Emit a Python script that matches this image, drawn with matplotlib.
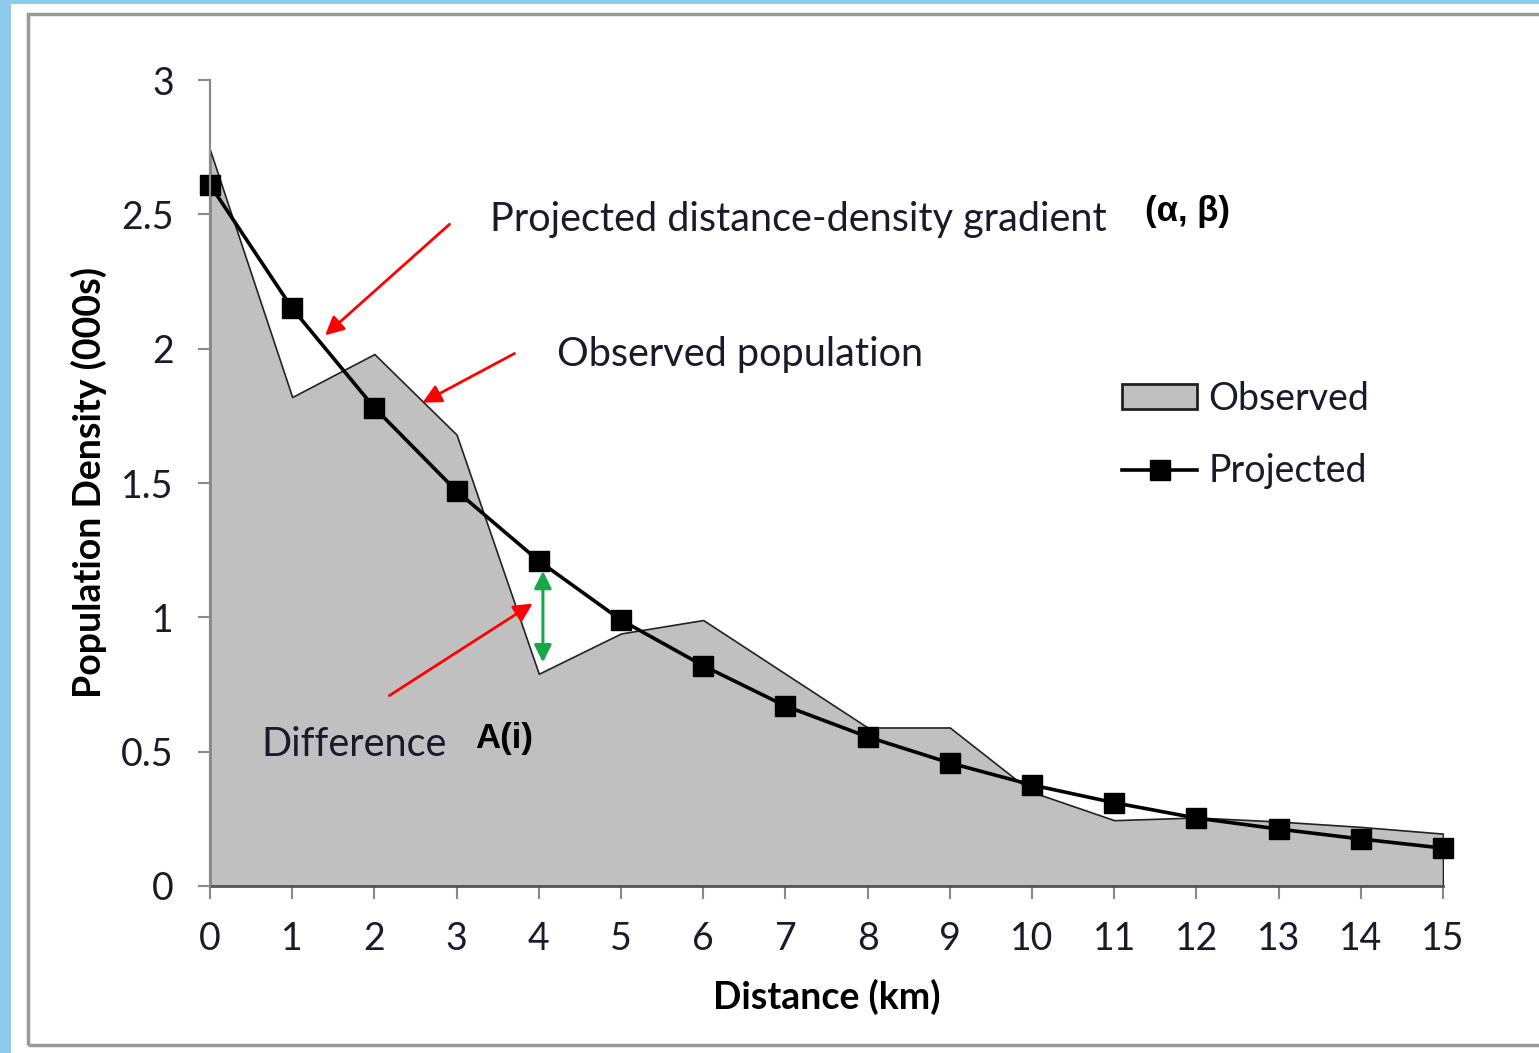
import matplotlib.pyplot as plt
from matplotlib.patches import Rectangle, Patch
from matplotlib.lines import Line2D

plt.rcParams['font.family'] = ['Lato', 'DejaVu Sans']

# data
distance = list(range(16))
observed = [2.74, 1.82, 1.98, 1.68, 0.79, 0.94, 0.99, 0.79, 0.59, 0.59,
            0.35, 0.245, 0.255, 0.24, 0.22, 0.195]
projected = [2.61, 2.15, 1.78, 1.47, 1.21, 0.99, 0.82, 0.67, 0.555, 0.458,
             0.376, 0.31, 0.253, 0.212, 0.175, 0.141]
y_ticks = [0, 0.5, 1, 1.5, 2, 2.5, 3]
y_tick_labels = ['0', '0.5', '1', '1.5', '2', '2.5', '3']

W, H = 1539, 1053
fig = plt.figure(figsize=(W / 100, H / 100), dpi=100)
fig.patch.set_facecolor('#8ccbea')

# white page and grey frame (figure pixel coords -> fractions)
def fx(px):
    return px / W

def fy(py):
    return 1 - py / H

fig.patches.append(Rectangle((fx(11), 0), 1, fy(4), transform=fig.transFigure,
                             facecolor='white', edgecolor='none', zorder=-10))
fig.patches.append(Rectangle((fx(28), fy(1045)), 1.0, fy(14) - fy(1045),
                             transform=fig.transFigure, facecolor='none',
                             edgecolor='#9a9a9a', linewidth=2.5, zorder=-5))

ax = fig.add_axes([fx(210), fy(886), fx(1443) - fx(210), fy(80) - fy(886)])
ax.set_zorder(2)
ax.set_facecolor('none')

ax.fill_between(distance, observed, 0, facecolor='#c0c0c0', edgecolor='#222222',
                linewidth=1.2, zorder=2)
ax.plot(distance, projected, color='black', linewidth=2.6, marker='s',
        markersize=14.5, zorder=3, clip_on=False)

ax.set_xlim(0, 15)
ax.set_ylim(0, 3)
ax.set_xticks(distance)
ax.set_yticks(y_ticks)
ax.set_yticklabels(y_tick_labels)
ax.tick_params(axis='both', direction='out', length=9, width=1.5,
               color='#8a8a8a', labelsize=27, labelcolor='#1a1a2a')
ax.tick_params(axis='y', pad=17)
ax.tick_params(axis='x', pad=16)
for s in ['top', 'right']:
    ax.spines[s].set_visible(False)
ax.spines['left'].set_color('#8a8a8a')
ax.spines['left'].set_linewidth(1.6)
ax.spines['bottom'].set_color('#555555')
ax.spines['bottom'].set_linewidth(2)
ax.spines['left'].set_zorder(4)

ax.set_xlabel('Distance (km)', fontsize=27, fontweight='bold', labelpad=16)
ax.set_ylabel('Population Density (000s)', fontsize=27, fontweight='bold', labelpad=10)

# annotations
txt = dict(fontsize=28.5, color='#1a1a2a', va='center', ha='left')
ax.text(3.41, 2.48, 'Projected distance-density gradient', **txt)
ax.text(4.22, 1.98, 'Observed population', **txt)
ax.text(0.63, 0.525, 'Difference', **txt)
bold = dict(fontsize=25, fontweight='bold', color='black', va='center', ha='left',
            family=['Liberation Sans', 'DejaVu Sans'])
ax.text(11.37, 2.51, '(α, β)', **bold)
ax.text(3.22, 0.55, 'A(i)', **bold)

red = dict(arrowstyle='-|>', color='red', lw=2, mutation_scale=28)
ax.annotate('', xy=(1.375, 2.043), xytext=(2.94, 2.47), arrowprops=red, zorder=5)
ax.annotate('', xy=(2.555, 1.794), xytext=(3.735, 1.987), arrowprops=red, zorder=5)
ax.annotate('', xy=(3.954, 1.057), xytext=(2.153, 0.703), arrowprops=red, zorder=5)
ax.annotate('', xy=(4.05, 1.183), xytext=(4.05, 0.822),
            arrowprops=dict(arrowstyle='<|-|>', color='#1aa64a', lw=2.2,
                            mutation_scale=26), zorder=5)

handles = [Patch(facecolor='#c0c0c0', edgecolor='#222222', linewidth=2),
           Line2D([], [], color='black', linewidth=2.6, marker='s', markersize=14.5)]
ax.legend(handles, ['Observed', 'Projected'], loc='upper left',
          bbox_to_anchor=(0.7397, 0.627), frameon=False, fontsize=27,
          handlelength=2.0, handleheight=0.65, labelspacing=0.98, borderpad=0,
          borderaxespad=0, handletextpad=0.3, labelcolor='#1a1a2a')

fig.savefig('out.png', dpi=100, facecolor=fig.get_facecolor())
